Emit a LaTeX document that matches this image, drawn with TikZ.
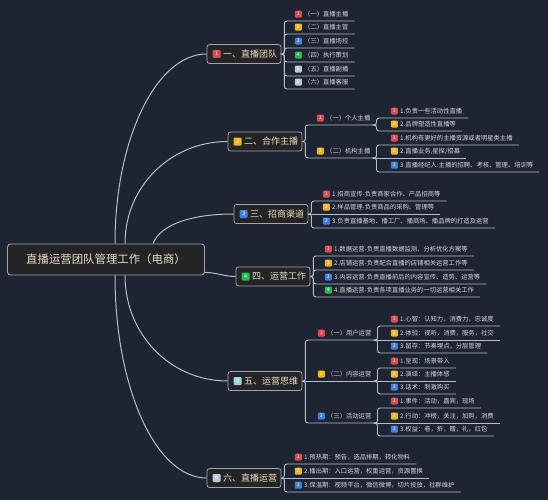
\documentclass[tikz,border=0pt]{standalone}
\usepackage{fontspec}
\newfontfamily\cjk{Noto Sans CJK SC}

\definecolor{bgc}{HTML}{1E2432}
\definecolor{linec}{HTML}{B4BECC}
\definecolor{boxc}{HTML}{242426}
\definecolor{rimc}{HTML}{A0A6AE}
\definecolor{titlec}{HTML}{E8DEC2}
\definecolor{leafc}{HTML}{D8D8D8}
\definecolor{cred}{HTML}{E2474F}
\definecolor{cyel}{HTML}{F2B51E}
\definecolor{cblu}{HTML}{3D7FE3}
\definecolor{cgrn}{HTML}{1DBE4E}
\definecolor{ccya}{HTML}{9FD3DC}
\definecolor{cgry}{HTML}{B5CDD6}

\tikzset{
  link/.style={draw=linec, line width=0.9pt, rounded corners=2.5pt},
  curve/.style={draw=linec, line width=1pt},
  root/.style={draw=rimc, fill=boxc, rounded corners=3pt, line width=0.9pt, text=titlec,
    font=\cjk\fontsize{11.4}{13}\selectfont, minimum width=197pt, minimum height=31pt},
  topic/.style={draw=rimc, fill=boxc, rounded corners=2.5pt, line width=0.8pt, text=titlec,
    font=\cjk\fontsize{9}{11}\selectfont, minimum height=19pt, inner xsep=4pt},
  leaf/.style={anchor=south west, text=leafc, font=\cjk\fontsize{6.3}{7}\selectfont,
    inner xsep=2pt, inner ysep=3.5pt, text height=5.5pt, text depth=1pt},
  badge/.style={fill=#1, text=white, rounded corners=1pt, font=\cjk\fontsize{5}{5}\selectfont,
    inner sep=0pt, minimum size=7pt},
  tbadge/.style={badge=#1, minimum size=8pt, font=\cjk\fontsize{5.5}{6}\selectfont},
}

\begin{document}
\begin{tikzpicture}[x=1pt,y=-1pt]
\path[use as bounding box, fill=bgc] (0,0) rectangle (548,500);

% centre and the six branches
\node[root] (root) at (106,259.5) {直播运营团队管理工作（电商）};
\node[topic] (t1) at (244,54) {\hspace*{12pt}一、直播团队};
\node[topic] (t2) at (265,141.5) {\hspace*{12pt}二、合作主播};
\node[topic] (t3) at (271,214) {\hspace*{12pt}三、招商渠道};
\node[topic] (t4) at (273,276.5) {\hspace*{12pt}四、运营工作};
\node[topic] (t5) at (265,381) {\hspace*{12pt}五、运营思维};
\node[topic] (t6) at (244,478) {\hspace*{12pt}六、直播运营};
\node[tbadge=cred] (b1) at ([xshift=10pt]t1.west) {1};
\node[tbadge=cyel] (b2) at ([xshift=10pt]t2.west) {2};
\node[tbadge=cblu] (b3) at ([xshift=10pt]t3.west) {3};
\node[tbadge=cgrn] (b4) at ([xshift=10pt]t4.west) {4};
\node[tbadge=ccya] (b5) at ([xshift=10pt]t5.west) {5};
\node[tbadge=cgry] (b6) at ([xshift=10pt]t6.west) {6};

\draw[curve] ([xshift=9pt]root.north) .. controls +(0,-105) and +(-50,0) .. (t1.west);
\draw[curve] ([xshift=19pt]root.north) .. controls +(0,-57) and +(-57,0) .. (t2.west);
\draw[curve] ([xshift=47pt]root.north) .. controls +(8,-20) and +(-40,0) .. (t3.west);
\draw[curve] ([yshift=3pt]root.south east) .. controls +(12,0) and +(-12,0) .. (t4.west);
\draw[curve] ([xshift=19pt]root.south) .. controls +(0,59) and +(-57,0) .. (t5.west);
\draw[curve] ([xshift=9pt]root.south) .. controls +(0,112) and +(-51,0) .. (t6.west);

% 一
\node[leaf, label={[badge=cred]left:1}] (c11) at (302,21) {（一）直播主播};
\node[leaf, label={[badge=cyel]left:2}] (c12) at (302,34) {（二）直播主管};
\node[leaf, label={[badge=cblu]left:3}] (c13) at (302,48) {（三）直播场控};
\node[leaf, label={[badge=cgrn]left:4}] (c14) at (302,62) {（四）执行策划};
\node[leaf, label={[badge=cgry]left:5}] (c15) at (302,76) {（五）直播副播};
\node[leaf, label={[badge=cgry]left:6}] (c16) at (302,89) {（六）直播客服};
\draw[link] (t1.east) -- ++(3,0) |- ([xshift=4pt]c11.south east);
\draw[link] (t1.east) -- ++(3,0) |- ([xshift=4pt]c12.south east);
\draw[link] (t1.east) -- ++(3,0) |- ([xshift=4pt]c13.south east);
\draw[link] (t1.east) -- ++(3,0) |- ([xshift=4pt]c14.south east);
\draw[link] (t1.east) -- ++(3,0) |- ([xshift=4pt]c15.south east);
\draw[link] (t1.east) -- ++(3,0) |- ([xshift=4pt]c16.south east);

% 二
\node[leaf, label={[badge=cred]left:1}] (s21) at (324,125) {（一）个人主播};
\node[leaf, label={[badge=cyel]left:2}] (s22) at (324,158) {（二）机构主播};
\draw[link] (t2.east) -- ++(3,0) |- ([xshift=4pt]s21.south east);
\draw[link] (t2.east) -- ++(3,0) |- ([xshift=4pt]s22.south east);
\node[leaf, label={[badge=cred]left:1}] (g211) at (398,118) {1.负责一些活动性直播};
\node[leaf, label={[badge=cyel]left:2}] (g212) at (398,131) {2.品牌塑造性直播等};
\draw[link] (s21.south east) -- ++(4,0) |- ([xshift=4pt]g211.south east);
\draw[link] (s21.south east) -- ++(4,0) |- ([xshift=4pt]g212.south east);
\node[leaf, label={[badge=cred]left:1}] (g221) at (398,145) {1.机构有更好的主播资源或者明星类主播};
\node[leaf, label={[badge=cyel]left:2}] (g222) at (398,158) {2.直播业务,星探/招募};
\node[leaf, label={[badge=cblu]left:3}] (g223) at (398,172) {3.直播经纪人:主播的招聘、考核、管理、培训等};
\draw[link] (s22.south east) -- ++(4,0) |- ([xshift=4pt]g221.south east);
\draw[link] (s22.south east) -- ([xshift=4pt]g222.south east);
\draw[link] (s22.south east) -- ++(4,0) |- ([xshift=4pt]g223.south east);

% 三
\node[leaf, label={[badge=cred]left:1}] (c31) at (330,201) {1.招商宣传-负责商家合作、产品招商等};
\node[leaf, label={[badge=cyel]left:2}] (c32) at (330,214) {2.样品管理-负责商品的采购、管理等};
\node[leaf, label={[badge=cblu]left:3}] (c33) at (330,228) {3.负责直播基地、播工厂、播商场、播品牌的打造及运营};
\draw[link] (t3.east) -- ++(3,0) |- ([xshift=4pt]c31.south east);
\draw[link] (t3.east) -- ([xshift=4pt]c32.south east);
\draw[link] (t3.east) -- ++(3,0) |- ([xshift=4pt]c33.south east);

% 四
\node[leaf, label={[badge=cred]left:1}] (c41) at (332,256) {1.数据运营-负责直播数据监测、分析优化方案等};
\node[leaf, label={[badge=cyel]left:2}] (c42) at (332,270) {2.店铺运营-负责配合直播的店铺相关运营工作等};
\node[leaf, label={[badge=cblu]left:3}] (c43) at (332,284) {3.内容运营-负责直播前后的内容宣传、造势、运营等};
\node[leaf, label={[badge=cgrn]left:4}] (c44) at (332,297) {4.直播运营-负责各项直播业务的一切运营相关工作};
\draw[link] (t4.east) -- ++(3,0) |- ([xshift=4pt]c41.south east);
\draw[link] (t4.east) -- ++(3,0) |- ([xshift=4pt]c42.south east);
\draw[link] (t4.east) -- ++(3,0) |- ([xshift=4pt]c43.south east);
\draw[link] (t4.east) -- ++(3,0) |- ([xshift=4pt]c44.south east);

% 五
\node[leaf, label={[badge=cred]left:1}] (s51) at (325,340) {（一）用户运营};
\node[leaf, label={[badge=cyel]left:2}] (s52) at (325,381) {（二）内容运营};
\node[leaf, label={[badge=cblu]left:3}] (s53) at (325,423) {（三）活动运营};
\draw[link] (t5.east) -- ++(3,0) |- ([xshift=4pt]s51.south east);
\draw[link] (t5.east) -- ([xshift=4pt]s52.south east);
\draw[link] (t5.east) -- ++(3,0) |- ([xshift=4pt]s53.south east);
\node[leaf, label={[badge=cred]left:1}] (g511) at (398,326) {1.心智：认知力，消费力，忠诚度};
\node[leaf, label={[badge=cyel]left:2}] (g512) at (398,340) {2.体验：视听，消费，服务，社交};
\node[leaf, label={[badge=cblu]left:3}] (g513) at (398,353) {3.留存：节奏埋点，分层管理};
\draw[link] (s51.south east) -- ++(4,0) |- ([xshift=4pt]g511.south east);
\draw[link] (s51.south east) -- ([xshift=4pt]g512.south east);
\draw[link] (s51.south east) -- ++(4,0) |- ([xshift=4pt]g513.south east);
\node[leaf, label={[badge=cred]left:1}] (g521) at (398,368) {1.呈现：场景带入};
\node[leaf, label={[badge=cyel]left:2}] (g522) at (398,381) {2.演绎：主播体感};
\node[leaf, label={[badge=cblu]left:3}] (g523) at (398,394) {3.话术：刺激购买};
\draw[link] (s52.south east) -- ++(4,0) |- ([xshift=4pt]g521.south east);
\draw[link] (s52.south east) -- ([xshift=4pt]g522.south east);
\draw[link] (s52.south east) -- ++(4,0) |- ([xshift=4pt]g523.south east);
\node[leaf, label={[badge=cred]left:1}] (g531) at (398,408) {1.事件：活动，嘉宾，现场};
\node[leaf, label={[badge=cyel]left:2}] (g532) at (398,423) {2.行动：冲榜，关注，加购，消费};
\node[leaf, label={[badge=cblu]left:3}] (g533) at (398,436) {3.权益：卷，折，赠，礼，红包};
\draw[link] (s53.south east) -- ++(4,0) |- ([xshift=4pt]g531.south east);
\draw[link] (s53.south east) -- ([xshift=4pt]g532.south east);
\draw[link] (s53.south east) -- ++(4,0) |- ([xshift=4pt]g533.south east);

% 六
\node[leaf, label={[badge=cred]left:1}] (c61) at (302,464) {1.预热期：预告，选品排期，转化物料};
\node[leaf, label={[badge=cyel]left:2}] (c62) at (302,478) {2.播出期：入口运营，权重运营，资源置换};
\node[leaf, label={[badge=cblu]left:3}] (c63) at (302,492) {3.保温期：视频平台，微信微博，切片投放，社群维护};
\draw[link] (t6.east) -- ++(3,0) |- ([xshift=4pt]c61.south east);
\draw[link] (t6.east) -- ([xshift=4pt]c62.south east);
\draw[link] (t6.east) -- ++(3,0) |- ([xshift=4pt]c63.south east);
\end{tikzpicture}
\end{document}
